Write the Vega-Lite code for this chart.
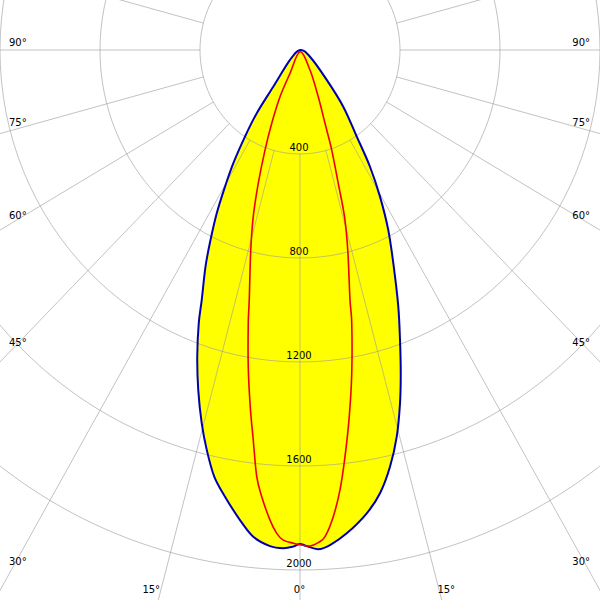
{
  "$schema": "https://vega.github.io/schema/vega-lite/v6.json",
  "width": 600,
  "height": 600,
  "padding": 0,
  "autosize": {"type": "none"},
  "background": "white",
  "view": {"stroke": null},
  "config": {"text": {"font": "DejaVu Sans", "fontSize": 10, "color": "black"}},
  "datasets": {
    "blue": [
      {"i": 1, "x": 0, "y": 0}, {"i": 2, "x": -40, "y": 38}, {"i": 3, "x": -107, "y": 141},
      {"i": 4, "x": -173, "y": 243}, {"i": 5, "x": -220, "y": 333}, {"i": 6, "x": -267, "y": 436},
      {"i": 7, "x": -300, "y": 526}, {"i": 8, "x": -333, "y": 628}, {"i": 9, "x": -358, "y": 731},
      {"i": 10, "x": -378, "y": 833}, {"i": 11, "x": -393, "y": 961}, {"i": 12, "x": -405, "y": 1051},
      {"i": 13, "x": -411, "y": 1180}, {"i": 14, "x": -407, "y": 1308}, {"i": 15, "x": -393, "y": 1436},
      {"i": 16, "x": -373, "y": 1538}, {"i": 17, "x": -343, "y": 1641}, {"i": 18, "x": -300, "y": 1718},
      {"i": 19, "x": -240, "y": 1808}, {"i": 20, "x": -187, "y": 1872}, {"i": 21, "x": -120, "y": 1908},
      {"i": 22, "x": -67, "y": 1916}, {"i": 23, "x": -27, "y": 1910}, {"i": 24, "x": 0, "y": 1900},
      {"i": 25, "x": 27, "y": 1908}, {"i": 26, "x": 73, "y": 1920}, {"i": 27, "x": 120, "y": 1904},
      {"i": 28, "x": 187, "y": 1859}, {"i": 29, "x": 267, "y": 1782}, {"i": 30, "x": 320, "y": 1705},
      {"i": 31, "x": 360, "y": 1603}, {"i": 32, "x": 387, "y": 1487}, {"i": 33, "x": 400, "y": 1359},
      {"i": 34, "x": 403, "y": 1243}, {"i": 35, "x": 400, "y": 1115}, {"i": 36, "x": 393, "y": 985},
      {"i": 37, "x": 375, "y": 833}, {"i": 38, "x": 353, "y": 692}, {"i": 39, "x": 320, "y": 564},
      {"i": 40, "x": 280, "y": 449}, {"i": 41, "x": 227, "y": 333}, {"i": 42, "x": 173, "y": 218},
      {"i": 43, "x": 107, "y": 115}, {"i": 44, "x": 40, "y": 26}
    ],
    "red": [
      {"i": 1, "x": 0, "y": 7}, {"i": 2, "x": -40, "y": 90}, {"i": 3, "x": -80, "y": 180},
      {"i": 4, "x": -113, "y": 282}, {"i": 5, "x": -140, "y": 385}, {"i": 6, "x": -167, "y": 513},
      {"i": 7, "x": -187, "y": 641}, {"i": 8, "x": -197, "y": 769}, {"i": 9, "x": -203, "y": 961},
      {"i": 10, "x": -207, "y": 1051}, {"i": 11, "x": -207, "y": 1218}, {"i": 12, "x": -199, "y": 1372},
      {"i": 13, "x": -187, "y": 1500}, {"i": 14, "x": -173, "y": 1641}, {"i": 15, "x": -153, "y": 1718},
      {"i": 16, "x": -120, "y": 1808}, {"i": 17, "x": -93, "y": 1859}, {"i": 18, "x": -67, "y": 1885},
      {"i": 19, "x": -27, "y": 1897}, {"i": 20, "x": 7, "y": 1904}, {"i": 21, "x": 40, "y": 1908},
      {"i": 22, "x": 73, "y": 1895}, {"i": 23, "x": 100, "y": 1872}, {"i": 24, "x": 133, "y": 1795},
      {"i": 25, "x": 160, "y": 1692}, {"i": 26, "x": 180, "y": 1564}, {"i": 27, "x": 197, "y": 1410},
      {"i": 28, "x": 207, "y": 1243}, {"i": 29, "x": 207, "y": 1051}, {"i": 30, "x": 200, "y": 961},
      {"i": 31, "x": 191, "y": 769}, {"i": 32, "x": 178, "y": 641}, {"i": 33, "x": 153, "y": 513},
      {"i": 34, "x": 127, "y": 385}, {"i": 35, "x": 100, "y": 282}, {"i": 36, "x": 73, "y": 180},
      {"i": 37, "x": 40, "y": 77}
    ],
    "circles": [{"r": 400}, {"r": 800}, {"r": 1200}, {"r": 1600}, {"r": 2000}],
    "spokes": [
      {"x": 0, "y": 400, "x2": 0, "y2": 3000},
      {"x": 103.5, "y": 386.4, "x2": 776.5, "y2": 2897.8},
      {"x": -103.5, "y": 386.4, "x2": -776.5, "y2": 2897.8},
      {"x": 200, "y": 346.4, "x2": 1500, "y2": 2598.1},
      {"x": -200, "y": 346.4, "x2": -1500, "y2": 2598.1},
      {"x": 282.8, "y": 282.8, "x2": 2121.3, "y2": 2121.3},
      {"x": -282.8, "y": 282.8, "x2": -2121.3, "y2": 2121.3},
      {"x": 346.4, "y": 200, "x2": 2598.1, "y2": 1500},
      {"x": -346.4, "y": 200, "x2": -2598.1, "y2": 1500},
      {"x": 386.4, "y": 103.5, "x2": 2897.8, "y2": 776.5},
      {"x": -386.4, "y": 103.5, "x2": -2897.8, "y2": 776.5},
      {"x": 400, "y": 0, "x2": 3000, "y2": 0},
      {"x": -400, "y": 0, "x2": -3000, "y2": 0},
      {"x": 386.4, "y": -103.5, "x2": 2897.8, "y2": -776.5},
      {"x": -386.4, "y": -103.5, "x2": -2897.8, "y2": -776.5}
    ],
    "rlabels": [{"t": "400", "r": 400}, {"t": "800", "r": 800}, {"t": "1200", "r": 1200}, {"t": "1600", "r": 1600}, {"t": "2000", "r": 2000}],
    "leftlabels": [{"t": "90°", "x": -1164, "y": -15}, {"t": "75°", "x": -1164, "y": 292}, {"t": "60°", "x": -1164, "y": 650}, {"t": "45°", "x": -1164, "y": 1140}, {"t": "30°", "x": -1164, "y": 1981}],
    "rightlabels": [{"t": "90°", "x": 1160, "y": -15}, {"t": "75°", "x": 1160, "y": 292}, {"t": "60°", "x": 1160, "y": 650}, {"t": "45°", "x": 1160, "y": 1140}, {"t": "30°", "x": 1160, "y": 1981}],
    "bottomlabels": [{"t": "15°", "x": -595, "y": 2088}, {"t": "0°", "x": -2, "y": 2088}, {"t": "15°", "x": 585, "y": 2088}]
  },
  "layer": [
    {
      "data": {"name": "blue"},
      "mark": {"type": "line", "interpolate": "cardinal-closed", "fill": "#ffff00", "stroke": "#ffff00", "strokeWidth": 0, "clip": true},
      "encoding": {
        "x": {"field": "x", "type": "quantitative", "scale": {"domain": [-1200, 1200], "nice": false, "zero": false}, "axis": null},
        "y": {"field": "y", "type": "quantitative", "scale": {"domain": [-192.3, 2115.4], "nice": false, "zero": false, "reverse": true}, "axis": null},
        "order": {"field": "i", "type": "quantitative"}
      }
    },
    {
      "data": {"name": "rlabels"},
      "mark": {"type": "text", "align": "center", "baseline": "alphabetic", "dy": -3, "dx": -1},
      "encoding": {
        "x": {"datum": 0, "type": "quantitative", "axis": null},
        "y": {"field": "r", "type": "quantitative", "axis": null},
        "text": {"field": "t"}
      }
    },
    {
      "data": {"name": "circles"},
      "mark": {"type": "point", "filled": false, "opacity": 1, "stroke": "#999999", "strokeOpacity": 0.6, "strokeWidth": 1, "clip": true,
        "shape": "M -0.96154 0 C -0.96154 -0.55228 -0.53104 -1 0 -1 C 0.53104 -1 0.96154 -0.55228 0.96154 0 C 0.96154 0.55228 0.53104 1 0 1 C -0.53104 1 -0.96154 0.55228 -0.96154 0 Z"},
      "encoding": {
        "x": {"datum": 0, "type": "quantitative", "axis": null},
        "y": {"datum": 0, "type": "quantitative", "axis": null},
        "size": {"field": "r", "type": "quantitative", "scale": {"type": "pow", "exponent": 2, "domain": [0, 2000], "range": [0, 1081600]}, "legend": null}
      }
    },
    {
      "data": {"name": "spokes"},
      "mark": {"type": "rule", "stroke": "#999999", "strokeOpacity": 0.6, "strokeWidth": 1, "clip": true},
      "encoding": {
        "x": {"field": "x", "type": "quantitative", "axis": null},
        "y": {"field": "y", "type": "quantitative", "axis": null},
        "x2": {"field": "x2"},
        "y2": {"field": "y2"}
      }
    },
    {
      "data": {"name": "leftlabels"},
      "mark": {"type": "text", "align": "left", "baseline": "alphabetic"},
      "encoding": {
        "x": {"field": "x", "type": "quantitative", "axis": null},
        "y": {"field": "y", "type": "quantitative", "axis": null},
        "text": {"field": "t"}
      }
    },
    {
      "data": {"name": "rightlabels"},
      "mark": {"type": "text", "align": "right", "baseline": "alphabetic"},
      "encoding": {
        "x": {"field": "x", "type": "quantitative", "axis": null},
        "y": {"field": "y", "type": "quantitative", "axis": null},
        "text": {"field": "t"}
      }
    },
    {
      "data": {"name": "bottomlabels"},
      "mark": {"type": "text", "align": "center", "baseline": "alphabetic"},
      "encoding": {
        "x": {"field": "x", "type": "quantitative", "axis": null},
        "y": {"field": "y", "type": "quantitative", "axis": null},
        "text": {"field": "t"}
      }
    },
    {
      "data": {"name": "blue"},
      "mark": {"type": "line", "interpolate": "cardinal-closed", "stroke": "#0000b0", "strokeWidth": 2, "clip": true},
      "encoding": {
        "x": {"field": "x", "type": "quantitative", "axis": null},
        "y": {"field": "y", "type": "quantitative", "axis": null},
        "order": {"field": "i", "type": "quantitative"}
      }
    },
    {
      "data": {"name": "red"},
      "mark": {"type": "line", "interpolate": "cardinal-closed", "stroke": "#ee0000", "strokeWidth": 1.6, "clip": true},
      "encoding": {
        "x": {"field": "x", "type": "quantitative", "axis": null},
        "y": {"field": "y", "type": "quantitative", "axis": null},
        "order": {"field": "i", "type": "quantitative"}
      }
    }
  ]
}
